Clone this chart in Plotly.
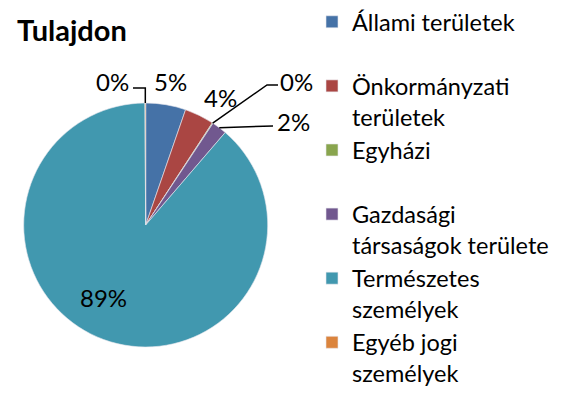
import math
import plotly.graph_objects as go

# Land ownership shares (%)
categories = [
    "Állami területek",
    "Önkormányzati területek",
    "Egyházi",
    "Gazdasági társaságok területe",
    "Természetes személyek",
    "Egyéb jogi személyek",
]
legend_labels = [
    "Állami területek<br>\u00a0",
    "Önkormányzati<br>területek",
    "Egyházi<br>\u00a0",
    "Gazdasági<br>társaságok területe",
    "Természetes<br>személyek",
    "Egyéb jogi<br>személyek",
]
shares = [5.3, 3.9, 0.1, 2.0, 88.6, 0.1]
colors = ["#4572A7", "#AA4643", "#89A54E", "#71588F", "#4198AF", "#DB843D"]

W, H = 562, 402
FONT = "Lato"
FS = 24

# pie placement in pixels
CX, CY, R = 145.7, 225.0, 122.0


def px(x):
    return x / W


def py(y):
    return 1 - y / H


total = sum(shares)
pct = [round(v / total * 100) for v in shares]

# clockwise mid-angles from 12 o'clock
mids = []
acc = 0.0
for v in shares:
    mids.append((acc + v / 2) / total * 360)
    acc += v


def edge(theta, f=1.0):
    t = math.radians(theta)
    return CX + f * R * math.sin(t), CY - f * R * math.cos(t)


fig = go.Figure(
    go.Pie(
        labels=legend_labels,
        values=shares,
        sort=False,
        direction="clockwise",
        rotation=0,
        marker=dict(colors=colors, line=dict(color="#e8e8ee", width=0.6)),
        textinfo="none",
        hoverinfo="label+percent",
        domain=dict(x=[px(CX - R), px(CX + R)], y=[py(CY + R), py(CY - R)]),
    )
)

# label anchor points (px) and optional leader-line elbows
label_pos = {
    0: dict(xy=(170, 81)),
    1: dict(xy=(220, 97)),
    2: dict(xy=(296, 82), elbow=[(267, 85), (278, 85)]),
    3: dict(xy=(293, 121), elbow=[(273, 126)]),
    4: dict(xy=(103, 297)),
    5: dict(xy=(112, 81), elbow="up"),
}

annotations = []
shapes = []
for i, spec in label_pos.items():
    x, y = spec["xy"]
    annotations.append(dict(
        x=px(x), y=py(y), xref="paper", yref="paper",
        text=f"{pct[i]}%", showarrow=False,
        xanchor="center", yanchor="middle",
        font=dict(family=FONT, size=FS, color="#000000"),
    ))
    elbow = spec.get("elbow")
    if elbow:
        ex, ey = edge(mids[i])
        if elbow == "up":
            pts = [(ex, ey), (ex, 88), (133, 88)]
        else:
            pts = [(ex, ey)] + elbow
        path = "M " + " L ".join(f"{px(a):.5f},{py(b):.5f}" for a, b in pts)
        shapes.append(dict(type="path", xref="paper", yref="paper", path=path,
                           line=dict(color="#000000", width=1.5)))

annotations.append(dict(
    x=px(15), y=py(30), xref="paper", yref="paper",
    text="<b>Tulajdon</b>", showarrow=False,
    xanchor="left", yanchor="middle",
    font=dict(family=FONT, size=29, color="#000000"),
))

fig.update_layout(
    width=W, height=H,
    margin=dict(l=0, r=0, t=0, b=0),
    paper_bgcolor="#ffffff",
    plot_bgcolor="#ffffff",
    showlegend=True,
    legend=dict(
        x=px(312), y=1, xanchor="left", yanchor="top",
        font=dict(family=FONT, size=23.5, color="#000000"),
        valign="top",
        traceorder="normal",
        bgcolor="rgba(0,0,0,0)",
        borderwidth=0,
    ),
    annotations=annotations,
    shapes=shapes,
)

fig.write_html("out.html")
